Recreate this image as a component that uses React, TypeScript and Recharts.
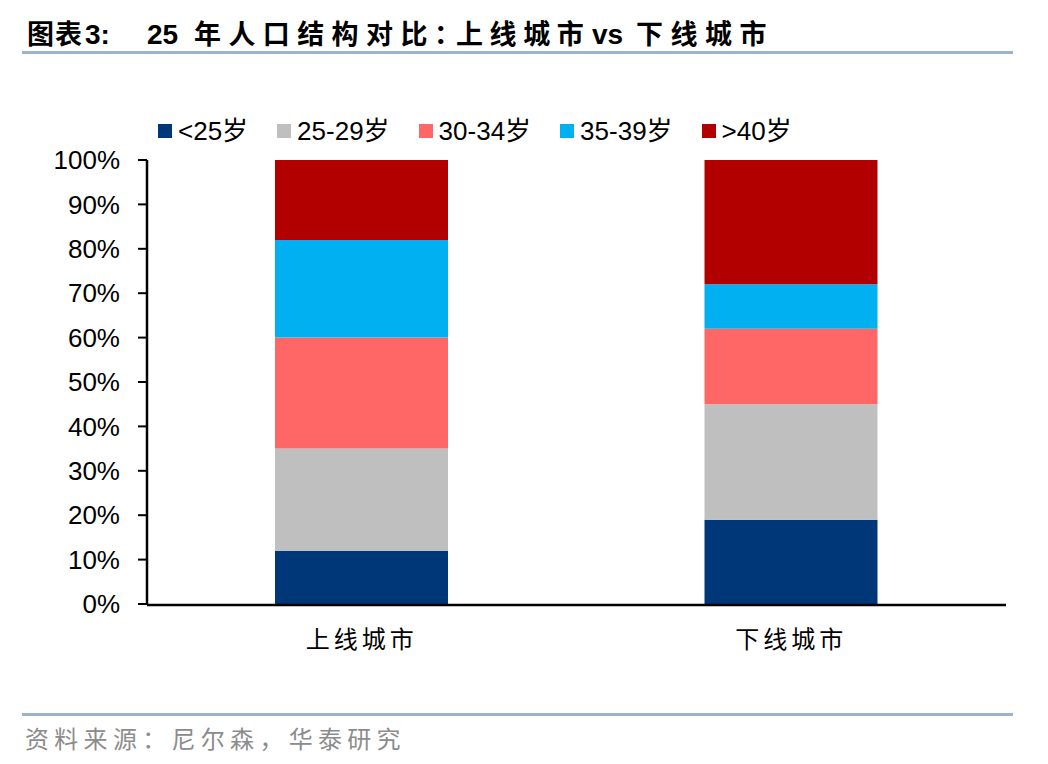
import React from 'react';
import { BarChart, Bar, XAxis, YAxis } from 'recharts';

// ---- data ----
const categories = ['上线城市', '下线城市'];
const under25 = [12, 19];
const age25to29 = [23, 26];
const age30to34 = [25, 17];
const age35to39 = [22, 10];
const over40 = [18, 28];

const seriesKeys = ['u25', 'a2529', 'a3034', 'a3539', 'o40'];
const seriesNames = ['<25岁', '25-29岁', '30-34岁', '35-39岁', '>40岁'];
const seriesColors = ['#003778', '#BFBFBF', '#FF6666', '#00B0F0', '#B20000'];
const seriesValues = [under25, age25to29, age30to34, age35to39, over40];

const yTicks = [0, 10, 20, 30, 40, 50, 60, 70, 80, 90, 100];
const frameTicks = [0, 1, 2];

const title = '图表3:  25 年人口结构对比：上线城市 vs 下线城市';
const source = '资料来源：尼尔森，华泰研究';

const data = categories.map((name, i) => {
  const row: Record<string, string | number> = { name };
  seriesKeys.forEach((k, s) => {
    row[k] = seriesValues[s][i];
  });
  return row;
});

const LATIN = "'Liberation Sans', Arial, 'Noto Sans CJK SC', sans-serif";
const CJK = "'Noto Sans CJK SC', 'Liberation Sans', sans-serif";
const RULE = '#9DB3CC';

function Legend() {
  return (
    <div
      style={{
        position: 'absolute',
        left: 158,
        top: 118,
        height: 26,
        display: 'flex',
        alignItems: 'center',
        fontFamily: LATIN,
        fontSize: 26,
        lineHeight: '26px',
        color: '#000',
        whiteSpace: 'nowrap',
      }}
    >
      {seriesNames.map((n, i) => (
        <div key={n} style={{ display: 'flex', alignItems: 'center', marginRight: 29 }}>
          <div style={{ width: 14, height: 14, background: seriesColors[i], marginRight: 6 }} />
          <span>{n}</span>
        </div>
      ))}
    </div>
  );
}

export default function App() {
  return (
    <div style={{ position: 'absolute', left: 0, top: 0, width: 1048, height: 764, background: '#fff', overflow: 'hidden' }}>
      <svg width={1048} height={764} style={{ position: 'absolute', left: 0, top: 0 }}>
        <text y={44} fill="#000" fontWeight={700}>
          <title>{title}</title>
          <tspan x={27} fontFamily={CJK} fontSize={27} letterSpacing={1}>图表</tspan>
          <tspan x={85} fontFamily={LATIN} fontSize={28}>3:</tspan>
          <tspan x={147} fontFamily={LATIN} fontSize={28}>25</tspan>
          <tspan x={194} fontFamily={CJK} fontSize={27} letterSpacing={7.4}>年人口结构对比</tspan>
          <tspan x={434} fontFamily={CJK} fontSize={27} letterSpacing={-6}>：</tspan>
          <tspan x={456} fontFamily={CJK} fontSize={27} letterSpacing={6.6}>上线城市</tspan>
          <tspan x={592} fontFamily={LATIN} fontSize={28}>vs</tspan>
          <tspan x={636} fontFamily={CJK} fontSize={27} letterSpacing={7.5}>下线城市</tspan>
        </text>
        <rect x={22} y={51} width={991} height={3} fill={RULE} />
        <rect x={22} y={713} width={991} height={3} fill={RULE} />
        <text x={25} y={748} fill="#8C8C8C" fontFamily={CJK} fontSize={24} letterSpacing={5.3}>
          {source}
        </text>
      </svg>
      <Legend />
      <BarChart
        width={1048}
        height={764}
        data={data}
        margin={{ top: 160, right: 42, bottom: 158, left: 87 }}
        style={{ position: 'absolute', left: 0, top: 0 }}
      >
        <XAxis
          xAxisId="frame"
          type="number"
          domain={[0, 2]}
          ticks={frameTicks}
          allowDataOverflow
          height={1}
          tick={false}
          tickSize={9}
          axisLine={{ stroke: '#000', strokeWidth: 2.5 }}
          tickLine={{ stroke: '#000', strokeWidth: 2 }}
        />
        <XAxis
          xAxisId="cat"
          dataKey="name"
          type="category"
          height={1}
          interval={0}
          axisLine={false}
          tickLine={false}
          tickSize={0}
          tickMargin={27}
          tick={{ fill: '#000', fontSize: 24, fontFamily: CJK, letterSpacing: 4 }}
        />
        <YAxis
          domain={[0, 100]}
          ticks={yTicks}
          interval={0}
          width={60}
          tickFormatter={(v: number) => `${v}%`}
          tickSize={9}
          tickMargin={18}
          axisLine={{ stroke: '#000', strokeWidth: 2.5 }}
          tickLine={{ stroke: '#000', strokeWidth: 2 }}
          tick={{ fill: '#000', fontSize: 26, fontFamily: LATIN }}
        />
        {seriesKeys.map((k, i) => (
          <Bar
            key={k}
            xAxisId="cat"
            dataKey={k}
            name={seriesNames[i]}
            stackId="age"
            fill={seriesColors[i]}
            barSize={173}
            isAnimationActive={false}
          />
        ))}
      </BarChart>
    </div>
  );
}
